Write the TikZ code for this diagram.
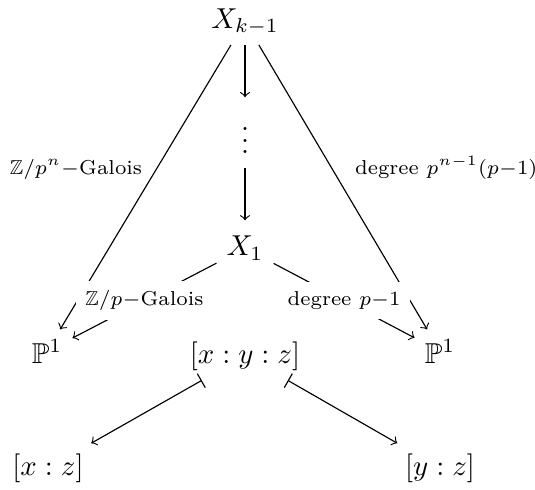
\documentclass[tikz,border=0pt]{standalone}
\usepackage{amsmath,amssymb}
\usepackage{tikz}

\begin{document}
\begin{tikzpicture}[obj/.style={anchor=base},
  lab/.style={font=\scriptsize, inner sep=1pt, yshift=1.5pt},
  desc/.style={font=\scriptsize, fill=white}]
\useasboundingbox (0,0) rectangle (6.529,5.968);
% objects
\node[obj] (Xk) at (2.990,5.626) {$X_{k-1}$};
\node (dots) at (2.990,4.357) {$\vdots$};
\node[obj] (X1) at (2.990,2.844) {$X_1$};
\node[obj] (P1L) at (0.574,1.538) {$\mathbb{P}^1$};
\node[obj] (xyz) at (2.990,1.538) {$[x:y:z]$};
\node[obj] (P1R) at (5.370,1.538) {$\mathbb{P}^1$};
\node[obj] (xz) at (0.586,0.171) {$[x:z]$};
\node[obj] (yz) at (5.370,0.171) {$[y:z]$};
% maps
\draw[->, shorten >=1pt] (Xk) -- (dots);
\draw[->, shorten <=1.5pt, shorten >=2pt] (dots) -- (X1);
\draw[->] (Xk) -- node[lab, midway, above left] {$\mathbb{Z}/p^n{-}\text{Galois}$} (P1L);
\draw[->] (Xk) -- node[lab, midway, above right, xshift=3pt] {degree $p^{n-1}(p{-}1)$} (P1R);
\draw[->] (X1) -- node[desc, midway] {$\mathbb{Z}/p{-}\text{Galois}$} (P1L);
\draw[->] (X1) -- node[desc, midway] {degree $p{-}1$} (P1R);
\draw[|->] (xyz) -- (xz);
\draw[|->] (xyz) -- (yz);
\end{tikzpicture}
\end{document}
